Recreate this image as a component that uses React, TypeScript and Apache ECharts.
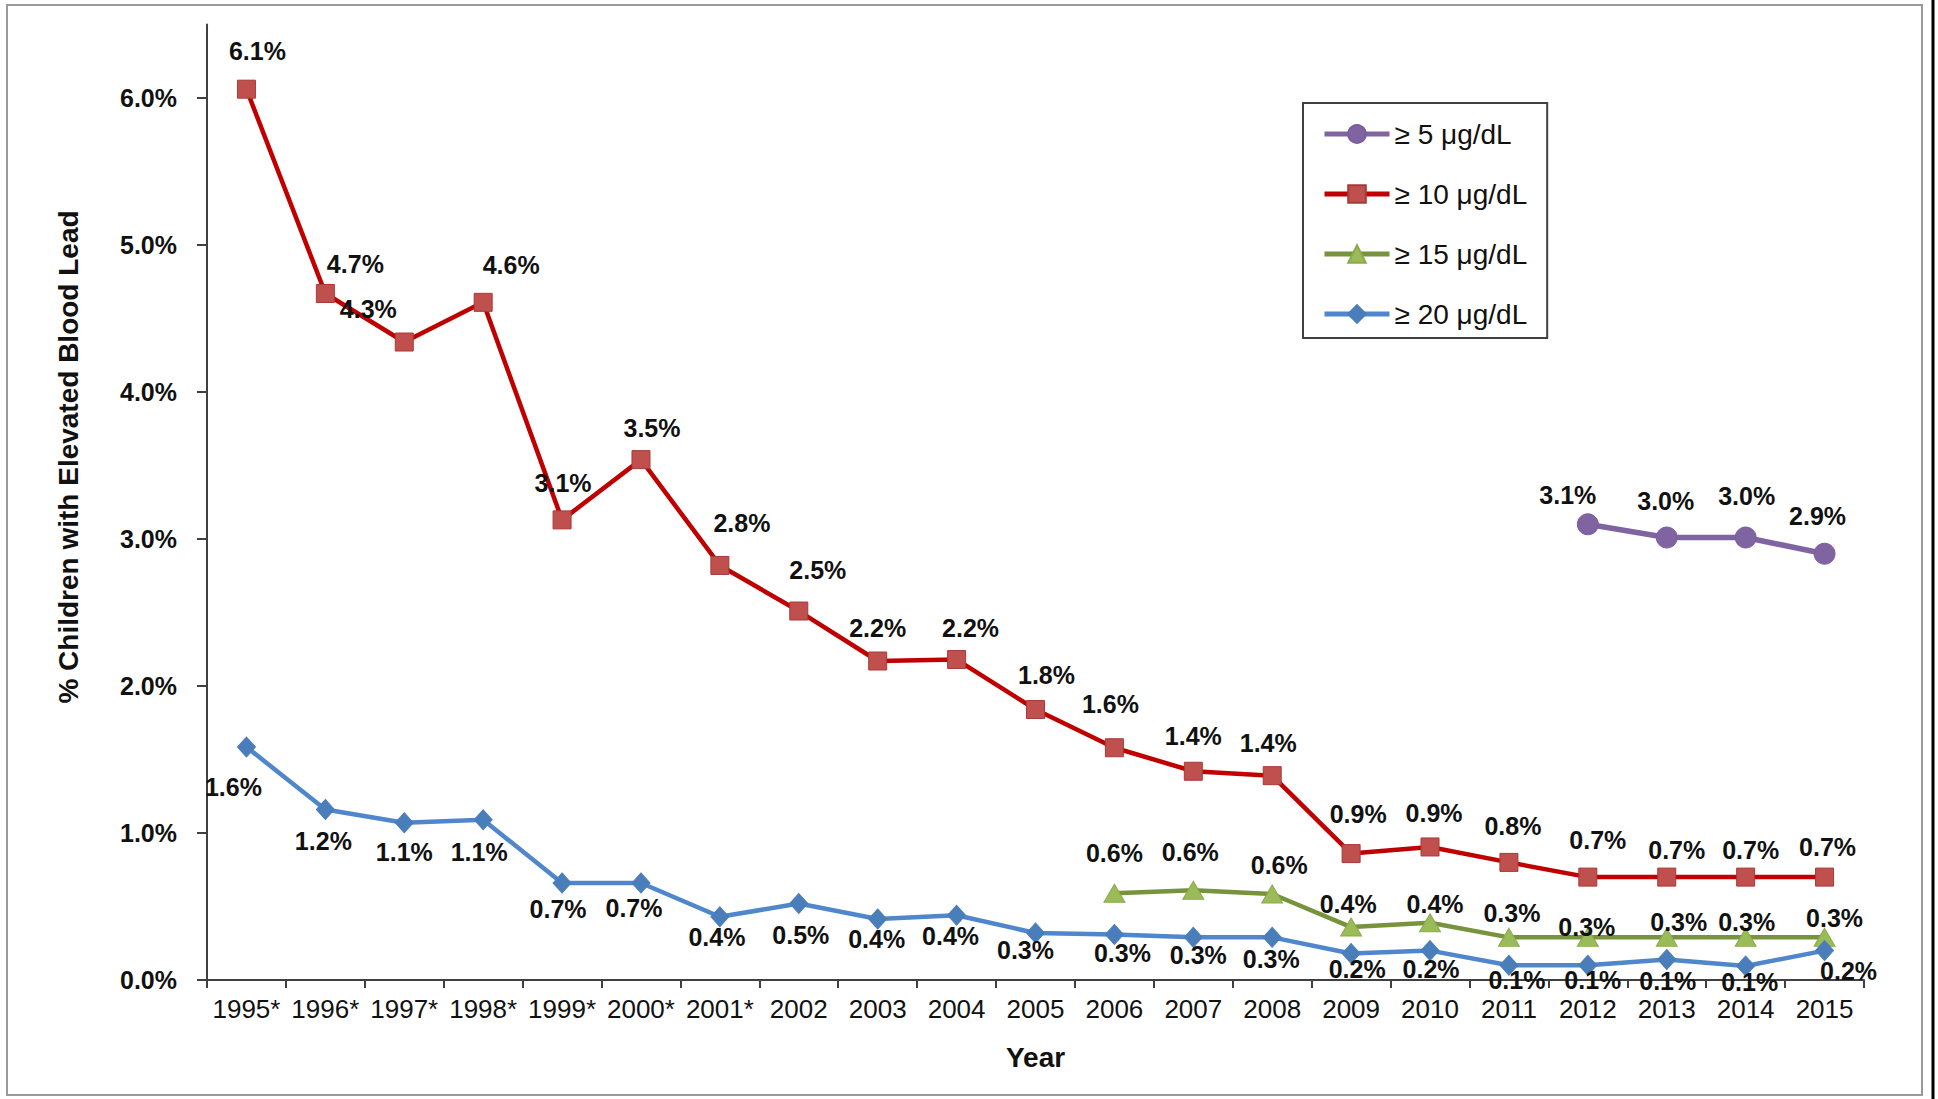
import React, { useEffect, useRef } from "react";
import * as echarts from "echarts";

const years = [
  "1995*", "1996*", "1997*", "1998*", "1999*", "2000*", "2001*",
  "2002", "2003", "2004", "2005", "2006", "2007", "2008", "2009",
  "2010", "2011", "2012", "2013", "2014", "2015",
];

const seriesNames = ["≥ 5 μg/dL", "≥ 10 μg/dL", "≥ 15 μg/dL", "≥ 20 μg/dL"];

const pct5 = [
  null, null, null, null, null, null, null, null, null, null, null,
  null, null, null, null, null, null, 3.1, 3.01, 3.01, 2.9,
];
const pct10 = [
  6.06, 4.67, 4.34, 4.61, 3.13, 3.54, 2.82, 2.51, 2.17, 2.18, 1.84,
  1.58, 1.42, 1.39, 0.86, 0.905, 0.8, 0.7, 0.7, 0.7, 0.7,
];
const pct15 = [
  null, null, null, null, null, null, null, null, null, null, null,
  0.59, 0.61, 0.585, 0.36, 0.39, 0.29, 0.29, 0.29, 0.29, 0.29,
];
const pct20 = [
  1.585, 1.16, 1.07, 1.09, 0.66, 0.66, 0.43, 0.52, 0.415, 0.44, 0.32,
  0.31, 0.29, 0.29, 0.18, 0.2, 0.1, 0.1, 0.14, 0.095, 0.2,
];

const yTicks = [0, 1, 2, 3, 4, 5, 6];

// label offsets (px) relative to each marker centre
const off5 = [
  null, null, null, null, null, null, null, null, null, null, null,
  null, null, null, null, null, null, [-20, -29], [-1, -37], [1, -42], [-7, -38],
];
const off10 = [
  [11, -38], [30, -30], [-36, -33], [28, -37], [1, -37], [11, -32], [22, -42],
  [19, -41], [0, -33], [14, -32], [11, -35], [-4, -44], [0, -35], [-4, -33],
  [7, -40], [4, -34], [4, -36], [10, -37], [10, -27], [5, -27], [3, -30],
];
const off15 = [
  null, null, null, null, null, null, null, null, null, null, null,
  [0, -40], [-3, -38], [7, -29], [-3, -23], [5, -19], [3, -24], [-1, -10],
  [12, -15], [1, -15], [10, -19],
];
const off20 = [
  [-13, 40], [-2, 32], [0, 29], [-4, 32], [-4, 26], [-7, 25], [-3, 20],
  [2, 31], [-1, 20], [-6, 21], [-10, 17], [8, 19], [5, 18], [-1, 22],
  [6, 15], [1, 18], [8, 15], [5, 15], [1, 22], [4, 16], [24, 20],
];

const FONT = '"Liberation Sans", Arial, sans-serif';

function buildData(values: (number | null)[], offs: (number[] | null)[]) {
  return values.map((v, i) =>
    v == null ? null : { value: v, label: { offset: offs[i] || [0, -30] } }
  );
}

function lineSeries(
  name: string,
  values: (number | null)[],
  offs: (number[] | null)[],
  lineColor: string,
  markColor: string,
  borderColor: string,
  symbol: string,
  symbolSize: any,
  width: number
) {
  return {
    name,
    type: "line",
    data: buildData(values, offs),
    symbol,
    symbolSize,
    showAllSymbol: true,
    connectNulls: false,
    lineStyle: { color: lineColor, width },
    itemStyle: { color: markColor, borderColor, borderWidth: 1 },
    label: {
      show: true,
      position: "inside",
      formatter: (p: any) => Number(p.value).toFixed(1) + "%",
      fontSize: 25,
      fontWeight: "bold",
      fontFamily: FONT,
      color: "#111",
      textBorderWidth: 0,
    },
    emphasis: { disabled: true },
    z: 3,
  };
}

export default function App() {
  const ref = useRef<HTMLDivElement>(null);

  useEffect(() => {
    if (!ref.current) return;
    const chart = echarts.init(ref.current, null, { renderer: "svg" });
    const axisColor = "#404040";
    chart.setOption({
      animation: false,
      backgroundColor: "#ffffff",
      grid: {
        left: 207,
        right: 74,
        top: 24.5,
        bottom: 119,
        containLabel: false,
        outerBoundsMode: "none",
      },
      legend: {
        orient: "vertical",
        left: 1303,
        top: 103,
        padding: [16, 20, 9, 19],
        itemGap: 30,
        itemWidth: 65,
        itemHeight: 22,
        borderColor: "#404040",
        borderWidth: 2,
        data: seriesNames,
        lineStyle: { width: 5 },
        textStyle: {
          fontSize: 28,
          lineHeight: 30,
          fontFamily: FONT,
          color: "#111",
        },
        selectedMode: false,
      },
      xAxis: {
        type: "category",
        data: years,
        boundaryGap: true,
        name: "Year",
        nameLocation: "middle",
        nameGap: 63,
        nameTextStyle: {
          fontSize: 28,
          fontWeight: "bold",
          fontFamily: FONT,
          color: "#111",
        },
        axisLine: { show: true, lineStyle: { color: axisColor, width: 2 } },
        axisTick: {
          show: true,
          interval: 0,
          alignWithLabel: false,
          length: 8,
          lineStyle: { color: axisColor, width: 2 },
        },
        axisLabel: {
          interval: 0,
          fontSize: 26,
          margin: 16,
          fontFamily: FONT,
          color: "#111",
        },
        splitLine: { show: false },
      },
      yAxis: {
        type: "value",
        min: 0,
        max: 6.5,
        axisLine: { show: true, lineStyle: { color: axisColor, width: 2 } },
        axisTick: {
          show: true,
          length: 10,
          customValues: yTicks,
          lineStyle: { color: axisColor, width: 2 },
        },
        axisLabel: {
          customValues: yTicks,
          formatter: (v: number) => v.toFixed(1) + "%",
          fontSize: 25,
          fontWeight: "bold",
          fontFamily: FONT,
          color: "#111",
          margin: 30,
        },
        splitLine: { show: false },
      },
      graphic: [
        {
          type: "rect",
          shape: { x: 7, y: 5, width: 1915, height: 1090 },
          style: { fill: "none", stroke: "#9a9a9a", lineWidth: 2 },
          silent: true,
        },
        {
          type: "line",
          shape: { x1: 1933, y1: 0, x2: 1933, y2: 1099 },
          style: { stroke: "#000", lineWidth: 3 },
          silent: true,
        },
        {
          type: "text",
          x: 68,
          y: 457,
          rotation: Math.PI / 2,
          style: {
            text: "% Children with Elevated Blood Lead",
            fontSize: 28,
            fontWeight: "bold",
            fontFamily: FONT,
            fill: "#111",
            align: "center",
            verticalAlign: "middle",
            textAlign: "center",
            textVerticalAlign: "middle",
          },
          silent: true,
        },
      ],
      series: [
        lineSeries(seriesNames[0], pct5, off5, "#8064A2", "#8064A2", "#7a5e9c", "circle", 21, 5.5),
        lineSeries(seriesNames[1], pct10, off10, "#C00000", "#C0504D", "#a83a37", "rect", 18, 4.5),
        lineSeries(seriesNames[2], pct15, off15, "#77933C", "#9BBB59", "#8aab4b", "triangle", [21, 18], 4.5),
        lineSeries(seriesNames[3], pct20, off20, "#4F86CC", "#4A7EBB", "#4A7EBB", "diamond", [18, 20], 4.5),
      ],
    });
    return () => chart.dispose();
  }, []);

  return (
    <div
      ref={ref}
      style={{
        position: "fixed",
        left: 0,
        top: 0,
        width: 1938,
        height: 1099,
        background: "#fff",
      }}
    />
  );
}
